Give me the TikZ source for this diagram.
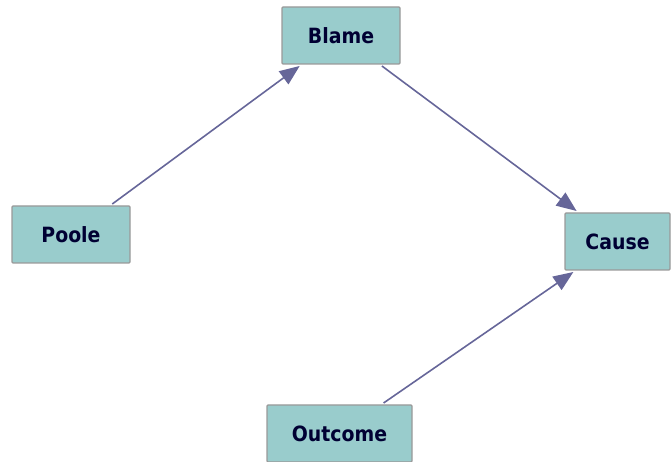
\documentclass[tikz,border=0pt]{standalone}
\usepackage{fontspec}
\setmainfont{DejaVu Sans Condensed}
\usetikzlibrary{arrows.meta}
\definecolor{boxfill}{HTML}{99CCCC}
\definecolor{boxedge}{HTML}{999999}
\definecolor{txt}{HTML}{000033}
\definecolor{arr}{HTML}{666699}
\tikzset{
  varbox/.style={draw=boxedge, line width=1.2pt, fill=boxfill, inner sep=0pt, minimum height=57pt,
    rounded corners=1pt, font=\fontsize{21}{21}\selectfont\bfseries, text=txt, outer sep=2pt},
  link/.style={draw=arr, line width=1.6pt, -{Triangle[length=20pt,width=16pt]}}
}
\begin{document}
\begin{tikzpicture}[x=1pt,y=1pt]
\useasboundingbox (0,0) rectangle (672,462);
\node[varbox, minimum width=118pt] (blame) at (341,426.5) {Blame};
\node[varbox, minimum width=118pt] (poole) at (71,227.5) {Poole};
\node[varbox, minimum width=105pt] (cause) at (617.5,220.5) {Cause};
\node[varbox, minimum width=145pt] (outcome) at (339.5,28.5) {Outcome};
\draw[link] (poole) -- (blame);
\draw[link] (blame) -- (cause);
\draw[link] (outcome) -- (cause);
\end{tikzpicture}
\end{document}
